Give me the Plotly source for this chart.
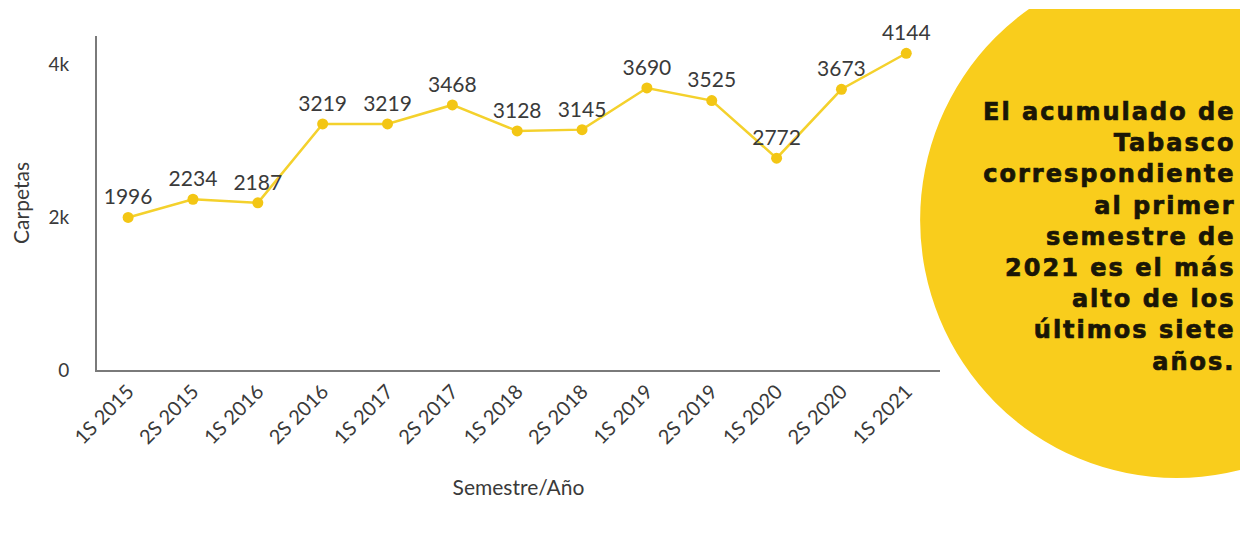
import plotly.graph_objects as go

categories = ["1S 2015", "2S 2015", "1S 2016", "2S 2016", "1S 2017", "2S 2017",
              "1S 2018", "2S 2018", "1S 2019", "2S 2019", "1S 2020", "2S 2020", "1S 2021"]
carpetas = [1996, 2234, 2187, 3219, 3219, 3468, 3128, 3145, 3690, 3525, 2772, 3673, 4144]
y_ticks = [0, 2000, 4000]
y_tick_labels = ["0", "2k", "4k"]
callout_lines = ["El acumulado de", "Tabasco", "correspondiente", "al primer",
                 "semestre de", "2021 es el más", "alto de los", "últimos siete", "años."]

LINE = "#F4D12C"
DOT = "#F3C614"
TXT = "#3a3a3a"
FONT = "Lato"

# plot area in reference pixels (page has an 8px body margin)
L, T, W, H = 84, 28, 848, 334
PX0, PY0 = 92, 370  # reference pixel of plot's left / bottom


def px(x):
    return (x - PX0) / W


def py(y):
    return (PY0 - y) / H


fig = go.Figure()
fig.add_trace(go.Scatter(
    x=list(range(len(categories))), y=carpetas,
    mode="lines+markers+text",
    line=dict(color=LINE, width=2.5),
    marker=dict(color=DOT, size=11),
    text=[str(v) for v in carpetas],
    textposition="top center",
    textfont=dict(family=FONT, size=21, color=TXT),
    cliponaxis=False,
    hoverinfo="skip",
    showlegend=False,
))

fig.update_layout(
    width=1248, height=537,
    margin=dict(l=L, r=1248 - L - W, t=T, b=537 - T - H),
    paper_bgcolor="white", plot_bgcolor="white",
    font=dict(family=FONT, color=TXT),
    xaxis=dict(
        range=[-0.48, 12.52],
        tickmode="array", tickvals=list(range(len(categories))), ticktext=categories,
        tickangle=-45, tickfont=dict(family=FONT, size=20, color=TXT),
        showgrid=False, zeroline=False,
        showline=True, linecolor="#7a7a7a", linewidth=2,
        ticks="", ticklen=0,
        title=dict(text="Semestre/Año", font=dict(family=FONT, size=21, color=TXT), standoff=33),
    ),
    yaxis=dict(
        range=[0, 4370],
        tickmode="array", tickvals=y_ticks, ticktext=y_tick_labels,
        tickfont=dict(family=FONT, size=19, color=TXT),
        showgrid=False, zeroline=False,
        showline=True, linecolor="#7a7a7a", linewidth=2,
        ticks="", ticklen=0, ticklabelstandoff=22,
        title=dict(text="Carpetas", font=dict(family=FONT, size=21, color=TXT), standoff=14),
    ),
    shapes=[
        dict(type="circle", xref="paper", yref="paper", layer="below",
             x0=px(920), x1=px(1436), y0=py(478), y1=py(-38),
             fillcolor="#F9CD1C", line=dict(width=0)),
        dict(type="rect", xref="paper", yref="paper", layer="above",
             x0=px(900), x1=px(1270), y0=py(9), y1=py(-40),
             fillcolor="white", line=dict(width=0)),
    ],
    annotations=[dict(
        xref="paper", yref="paper",
        x=px(1240), y=py(237),
        xanchor="right", yanchor="middle", align="right",
        text="<br>".join(callout_lines), showarrow=False,
        font=dict(family="DejaVu Sans", size=24, color="#1a1606", weight="bold"),
    )],
)

post = """
document.querySelectorAll('.annotation-text').forEach(function(t){
  t.style.letterSpacing = '2px';
  t.style.stroke = '#1a1606';
  t.style.strokeWidth = '0.7px';
});
"""

fig.write_html("out.html", post_script=post)
